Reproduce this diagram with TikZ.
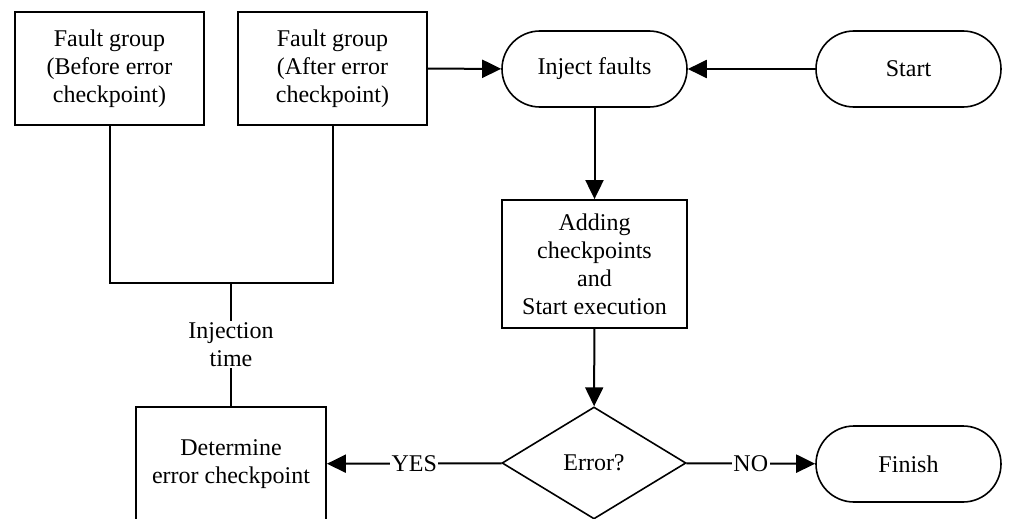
\documentclass[tikz,border=0pt]{standalone}
\usepackage{fontspec}
\newfontfamily\flowfont{Liberation Serif}
\usetikzlibrary{arrows.meta,shapes.geometric}
\begin{document}
\begin{tikzpicture}[x=1pt,y=-1pt,
  every node/.style={font=\flowfont\fontsize{24}{28}\selectfont, align=center},
  box/.style={draw, line width=1.8pt, inner sep=0pt},
  term/.style={draw, line width=1.6pt, rounded corners=38pt,
    minimum width=185pt, minimum height=76pt, inner sep=0pt},
  decision/.style={draw, diamond, line width=1.6pt, aspect=1.64,
    minimum width=184pt, minimum height=112pt, inner sep=0pt},
  link/.style={line width=2pt},
  flow/.style={link, -{Triangle[length=19pt,width=18pt]}},
  tag/.style={fill=white, inner sep=1.5pt}]
\clip (0,0) rectangle (1013,519);

% fault groups
\node[box, minimum width=189pt, minimum height=113pt] (before) at (109.5,68.5)
  {Fault group\\(Before error\\checkpoint)};
\node[box, minimum width=189pt, minimum height=113pt] (after) at (332.5,68.5)
  {Fault group\\(After error\\checkpoint)};

% main flow
\node[term] (inject) at (594.5,69) {Inject faults};
\node[term] (start) at (908.5,69) {Start};
\node[box, minimum width=185pt, minimum height=128pt] (adding) at (594.5,264)
  {Adding\\checkpoints\\and\\Start execution};
\node[decision] (err) at (594,463) {Error?};
\node[term] (finish) at (908.5,464) {Finish};
\node[box, minimum width=190pt, minimum height=114pt] (determine) at (231,464)
  {Determine\\error checkpoint};

\coordinate (joint) at (231,283);

% connectors
\draw[flow] (after) -- (inject);
\draw[flow] (start) -- (inject);
\draw[flow] (inject) -- (adding);
\draw[flow] (adding) -- (err);
\draw[flow] (err) -- node[tag]{NO} (finish);
\draw[flow] (err) -- node[tag]{YES} (determine);

% injection time bracket
\draw[link] (before.south) |- (joint) -| (after.south);
\draw[link] (determine.north) -- node[tag]{Injection\\time} (joint);
\end{tikzpicture}
\end{document}
